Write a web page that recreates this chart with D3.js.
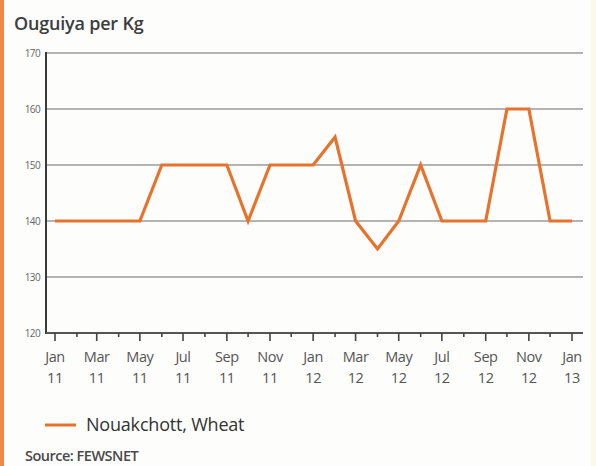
<!DOCTYPE html>
<html>
<head>
<meta charset="utf-8">
<script src="https://cdn.jsdelivr.net/npm/d3@7"></script>
<style>
  html, body { margin: 0; padding: 0; background: #fdfdfc; }
  svg { display: block; }
  text { font-family: "Open Sans", "Noto Sans", sans-serif; }
</style>
</head>
<body>
<svg id="chart" width="596" height="466"></svg>
<script>
// Monthly wheat price, Nouakchott (Ouguiya per Kg), Jan 2011 – Jan 2013
const months = [
  "2011-01","2011-02","2011-03","2011-04","2011-05","2011-06","2011-07","2011-08",
  "2011-09","2011-10","2011-11","2011-12","2012-01","2012-02","2012-03","2012-04",
  "2012-05","2012-06","2012-07","2012-08","2012-09","2012-10","2012-11","2012-12","2013-01"
];
const wheatPrice = [
  140,140,140,140,140,150,150,150,
  150,140,150,150,150,155,140,135,
  140,150,140,140,140,160,160,140,140
];
const yTicks = [120, 130, 140, 150, 160, 170];
const monthNames = ["Jan","Feb","Mar","Apr","May","Jun","Jul","Aug","Sep","Oct","Nov","Dec"];
const seriesName = "Nouakchott, Wheat";
const yTitle = "Ouguiya per Kg";
const sourceText = "Source: FEWSNET";

const parse = d3.utcParse("%Y-%m");
const data = months.map((m, i) => ({ date: parse(m), value: wheatPrice[i] }));

const svg = d3.select("#chart");
const W = 596, H = 466;
const orange = "#e8722c";

// side accents
svg.append("rect").attr("x", 0).attr("y", 0).attr("width", 4).attr("height", H).attr("fill", "#f08849");
svg.append("rect").attr("x", 591).attr("y", 0).attr("width", 5).attr("height", H).attr("fill", "#fbf8ec");

const plotLeft = 46, plotRight = 583;
const x = d3.scaleUtc()
  .domain([data[0].date, data[data.length - 1].date])
  .range([55, 572]);
const y = d3.scaleLinear().domain([120, 170]).range([333, 53]);

// title
svg.append("text")
  .attr("x", 14).attr("y", 30)
  .attr("font-size", 18).attr("font-weight", 600)
  .attr("fill", "#3c3c3c")
  .attr("letter-spacing", "-0.2")
  .text(yTitle);

// horizontal gridlines
svg.append("g").selectAll("line")
  .data(yTicks.filter(v => v > 120))
  .join("line")
  .attr("x1", plotLeft).attr("x2", plotRight)
  .attr("y1", d => y(d)).attr("y2", d => y(d))
  .attr("stroke", "#b4b4b4").attr("stroke-width", 2);

// y axis
const yAxis = svg.append("g")
  .attr("transform", `translate(${plotLeft},0)`)
  .call(d3.axisLeft(y).tickValues(yTicks).tickSize(0).tickPadding(6));
yAxis.select(".domain").remove();
yAxis.selectAll("text")
  .attr("font-size", 10).attr("fill", "#666")
  .attr("font-family", "\"Open Sans\", sans-serif")
  .attr("letter-spacing", "-0.6");
svg.append("line")
  .attr("x1", plotLeft).attr("x2", plotLeft)
  .attr("y1", y(170) - 1).attr("y2", y(120) + 1)
  .attr("stroke", "#3a3a3a").attr("stroke-width", 2);

// x axis with monthly ticks, labels on odd months
const xAxisG = svg.append("g").attr("transform", `translate(0,${y(120)})`);
xAxisG.append("line")
  .attr("x1", plotLeft).attr("x2", plotRight)
  .attr("y1", 0).attr("y2", 0)
  .attr("stroke", "#555").attr("stroke-width", 2.2);
xAxisG.selectAll("line.tick")
  .data(data)
  .join("line")
  .attr("class", "tick")
  .attr("x1", d => x(d.date)).attr("x2", d => x(d.date))
  .attr("y1", 0)
  .attr("y2", d => d.date.getUTCMonth() % 2 === 0 ? 8 : 4)
  .attr("stroke", "#444").attr("stroke-width", 1.6);

const labelled = data.filter(d => d.date.getUTCMonth() % 2 === 0);
const lbl = xAxisG.selectAll("text.lbl")
  .data(labelled)
  .join("text")
  .attr("class", "lbl")
  .attr("text-anchor", "middle")
  .attr("font-size", 14.5)
  .attr("fill", "#555")
  .attr("letter-spacing", "-0.4");
lbl.append("tspan")
  .attr("x", d => x(d.date)).attr("y", 28.5)
  .text(d => monthNames[d.date.getUTCMonth()]);
lbl.append("tspan")
  .attr("x", d => x(d.date)).attr("y", 50)
  .text(d => d3.utcFormat("%y")(d.date));

// price line
svg.append("path")
  .datum(data)
  .attr("fill", "none")
  .attr("stroke", orange)
  .attr("stroke-width", 3.2)
  .attr("stroke-linejoin", "miter")
  .attr("d", d3.line().x(d => x(d.date)).y(d => y(d.value)));

// legend
svg.append("line")
  .attr("x1", 45).attr("x2", 76).attr("y1", 425).attr("y2", 425)
  .attr("stroke", orange).attr("stroke-width", 3);
svg.append("text")
  .attr("x", 86).attr("y", 431)
  .attr("font-size", 18).attr("fill", "#333")
  .attr("letter-spacing", "-0.2")
  .text(seriesName);

// source
svg.append("text")
  .attr("x", 25).attr("y", 461)
  .attr("font-size", 14.5).attr("font-weight", 600)
  .attr("fill", "#4a4a4a")
  .attr("letter-spacing", "-0.5")
  .text(sourceText);
</script>
</body>
</html>
